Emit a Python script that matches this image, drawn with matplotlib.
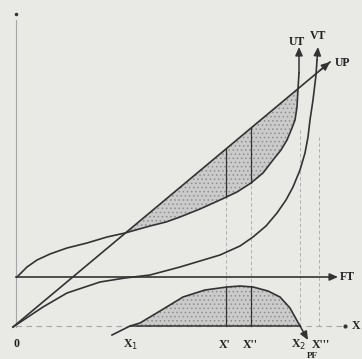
import numpy as np
import matplotlib
matplotlib.use("Agg")
import matplotlib.pyplot as plt

# schematic curves, points (origin at start of FT axis)
ut_x = [1, 11, 21, 34, 51, 71, 91, 109, 134, 150, 164, 184, 204, 221, 235, 247, 257,
        265, 271, 276, 279, 281, 282, 283, 283]
ut_y = [0, 10, 17, 23, 29, 34, 40, 44, 51, 55, 60, 68, 77, 85, 94, 104, 117,
        127, 137, 149, 157, 170, 188, 204, 230]

vt_x = [-3, 12, 27, 51, 84, 109, 134, 164, 184, 204, 224, 237, 250, 261, 270, 277,
        284, 289, 292, 294, 297, 300, 301, 302]
vt_y = [-50, -40, -30, -16, -5, -1, 2, 10, 16, 22, 31, 40, 51, 64, 77, 90,
        107, 124, 140, 157, 177, 202, 217, 230]

up_x = [-3, 314]
up_y = [-50, 215]

pf_x = [96, 114, 124, 144, 167, 189, 211, 224, 237, 252, 264, 274, 279, 284, 292]
pf_y = [-58, -49, -46, -34, -20, -13, -10, -9, -10, -14, -20, -31, -40, -49, -63]

x_axis_y = -49
ft_end = 322
x_axis_end = 329

# marked quantities on the X axis
marks = ["X'", "X''", "X$_2$", "X'''"]
mark_x = [210, 235, 284, 303]
mark_top = [128, 150, 147, 140]

LINE = "#333333"
FAINT = "#a6a6a6"
BG = "#e9e9e6"

fig = plt.figure(figsize=(3.62, 3.59), dpi=100, facecolor=BG)
ax = fig.add_axes([0, 0, 1, 1])
ax.set_facecolor(BG)
ax.set_xlim(-16, 346)
ax.set_ylim(-82, 277)
ax.axis("off")
plt.rcParams["hatch.linewidth"] = 0.6


def arrow(x0, y0, x1, y1):
    ax.annotate("", xy=(x1, y1), xytext=(x0, y0),
                arrowprops=dict(arrowstyle="-|>,head_length=0.5,head_width=0.22",
                                color=LINE, lw=1.1, shrinkA=0, shrinkB=0))


# shaded areas
i0, i1 = ut_x.index(109), ut_x.index(282)
ax.fill(ut_x[i0:i1 + 1], ut_y[i0:i1 + 1], facecolor="#cbcbcb", edgecolor="#8f8f8f",
        hatch="....", lw=0, zorder=1)
j0, j1 = 1, len(pf_x) - 2
ax.fill(pf_x[j0:j1 + 1], pf_y[j0:j1 + 1], facecolor="#cbcbcb", edgecolor="#8f8f8f",
        hatch="....", lw=0, zorder=1)

# faint vertical axis and guide lines
ax.plot([0, 0], [257, -50], color=FAINT, lw=0.8, zorder=2)
ax.plot([0], [263], "o", color=LINE, ms=1.5)
for mx, top in zip(mark_x, mark_top):
    ax.plot([mx, mx], [top, x_axis_y], color=FAINT, lw=0.6, ls=(0, (4, 3)), zorder=2)
# solid parts of X' and X'' inside the shaded areas
for mx in mark_x[:2]:
    top_ut = np.interp(mx, ut_x[i0:i1 + 1], ut_y[i0:i1 + 1])
    top_up = np.interp(mx, up_x, up_y)
    ax.plot([mx, mx], [top_ut, top_up], color=LINE, lw=0.9, zorder=3)
    ax.plot([mx, mx], [x_axis_y, np.interp(mx, pf_x, pf_y)], color=LINE, lw=0.9, zorder=3)

# X axis: dashed outside, solid under the profit curve
ax.plot([0, x_axis_end], [x_axis_y, x_axis_y], color=FAINT, lw=0.8, ls=(0, (5, 4)), zorder=2)
ax.plot([pf_x[j0], pf_x[j1]], [x_axis_y, x_axis_y], color=LINE, lw=1.1, zorder=3)
ax.plot([x_axis_end], [x_axis_y], "o", color=LINE, ms=2)

# FT axis
ax.plot([0, ft_end - 6], [0, 0], color=LINE, lw=1.2, zorder=3)
arrow(ft_end - 8, 0, ft_end, 0)

# curves
ax.plot(ut_x[:-1], ut_y[:-1], color=LINE, lw=1.2, zorder=4)
arrow(ut_x[-2], ut_y[-2], ut_x[-1], ut_y[-1])
ax.plot(vt_x[:-1], vt_y[:-1], color=LINE, lw=1.2, zorder=4)
arrow(vt_x[-2], vt_y[-2], vt_x[-1], vt_y[-1])
ax.plot(up_x, up_y, color=LINE, lw=1.2, zorder=4)
arrow(up_x[1] - 10, up_y[1] - 8.4, up_x[1], up_y[1])
ax.plot(pf_x[:-1], pf_y[:-1], color=LINE, lw=1.2, zorder=4)
arrow(pf_x[-2], pf_y[-2], pf_x[-1], pf_y[-1])

# labels
lab = dict(color="#222222", fontsize=8.5, fontweight="bold", family="Liberation Serif")
ax.text(281, 235, "UT", ha="center", va="center", **lab)
ax.text(302, 241, "VT", ha="center", va="center", **lab)
ax.text(319, 214, "UP", ha="left", va="center", **lab)
ax.text(324, 0, "FT", ha="left", va="center", **lab)
ax.text(336, x_axis_y, "X", ha="left", va="center", **lab)
ax.text(1, -67, "0", ha="center", va="center", **lab)
ax.text(115, -68, "X$_1$", ha="center", va="center", **lab)
for name, mx in zip(marks, mark_x):
    ax.text(mx - 1 if name != "X'''" else mx + 2, -68, name, ha="center", va="center", **lab)
ax.text(296, -79.5, "PF", ha="center", va="center", color="#222222", fontsize=6.5,
        fontweight="bold", family="Liberation Serif")

fig.savefig("out.png", dpi=100, facecolor=BG)
